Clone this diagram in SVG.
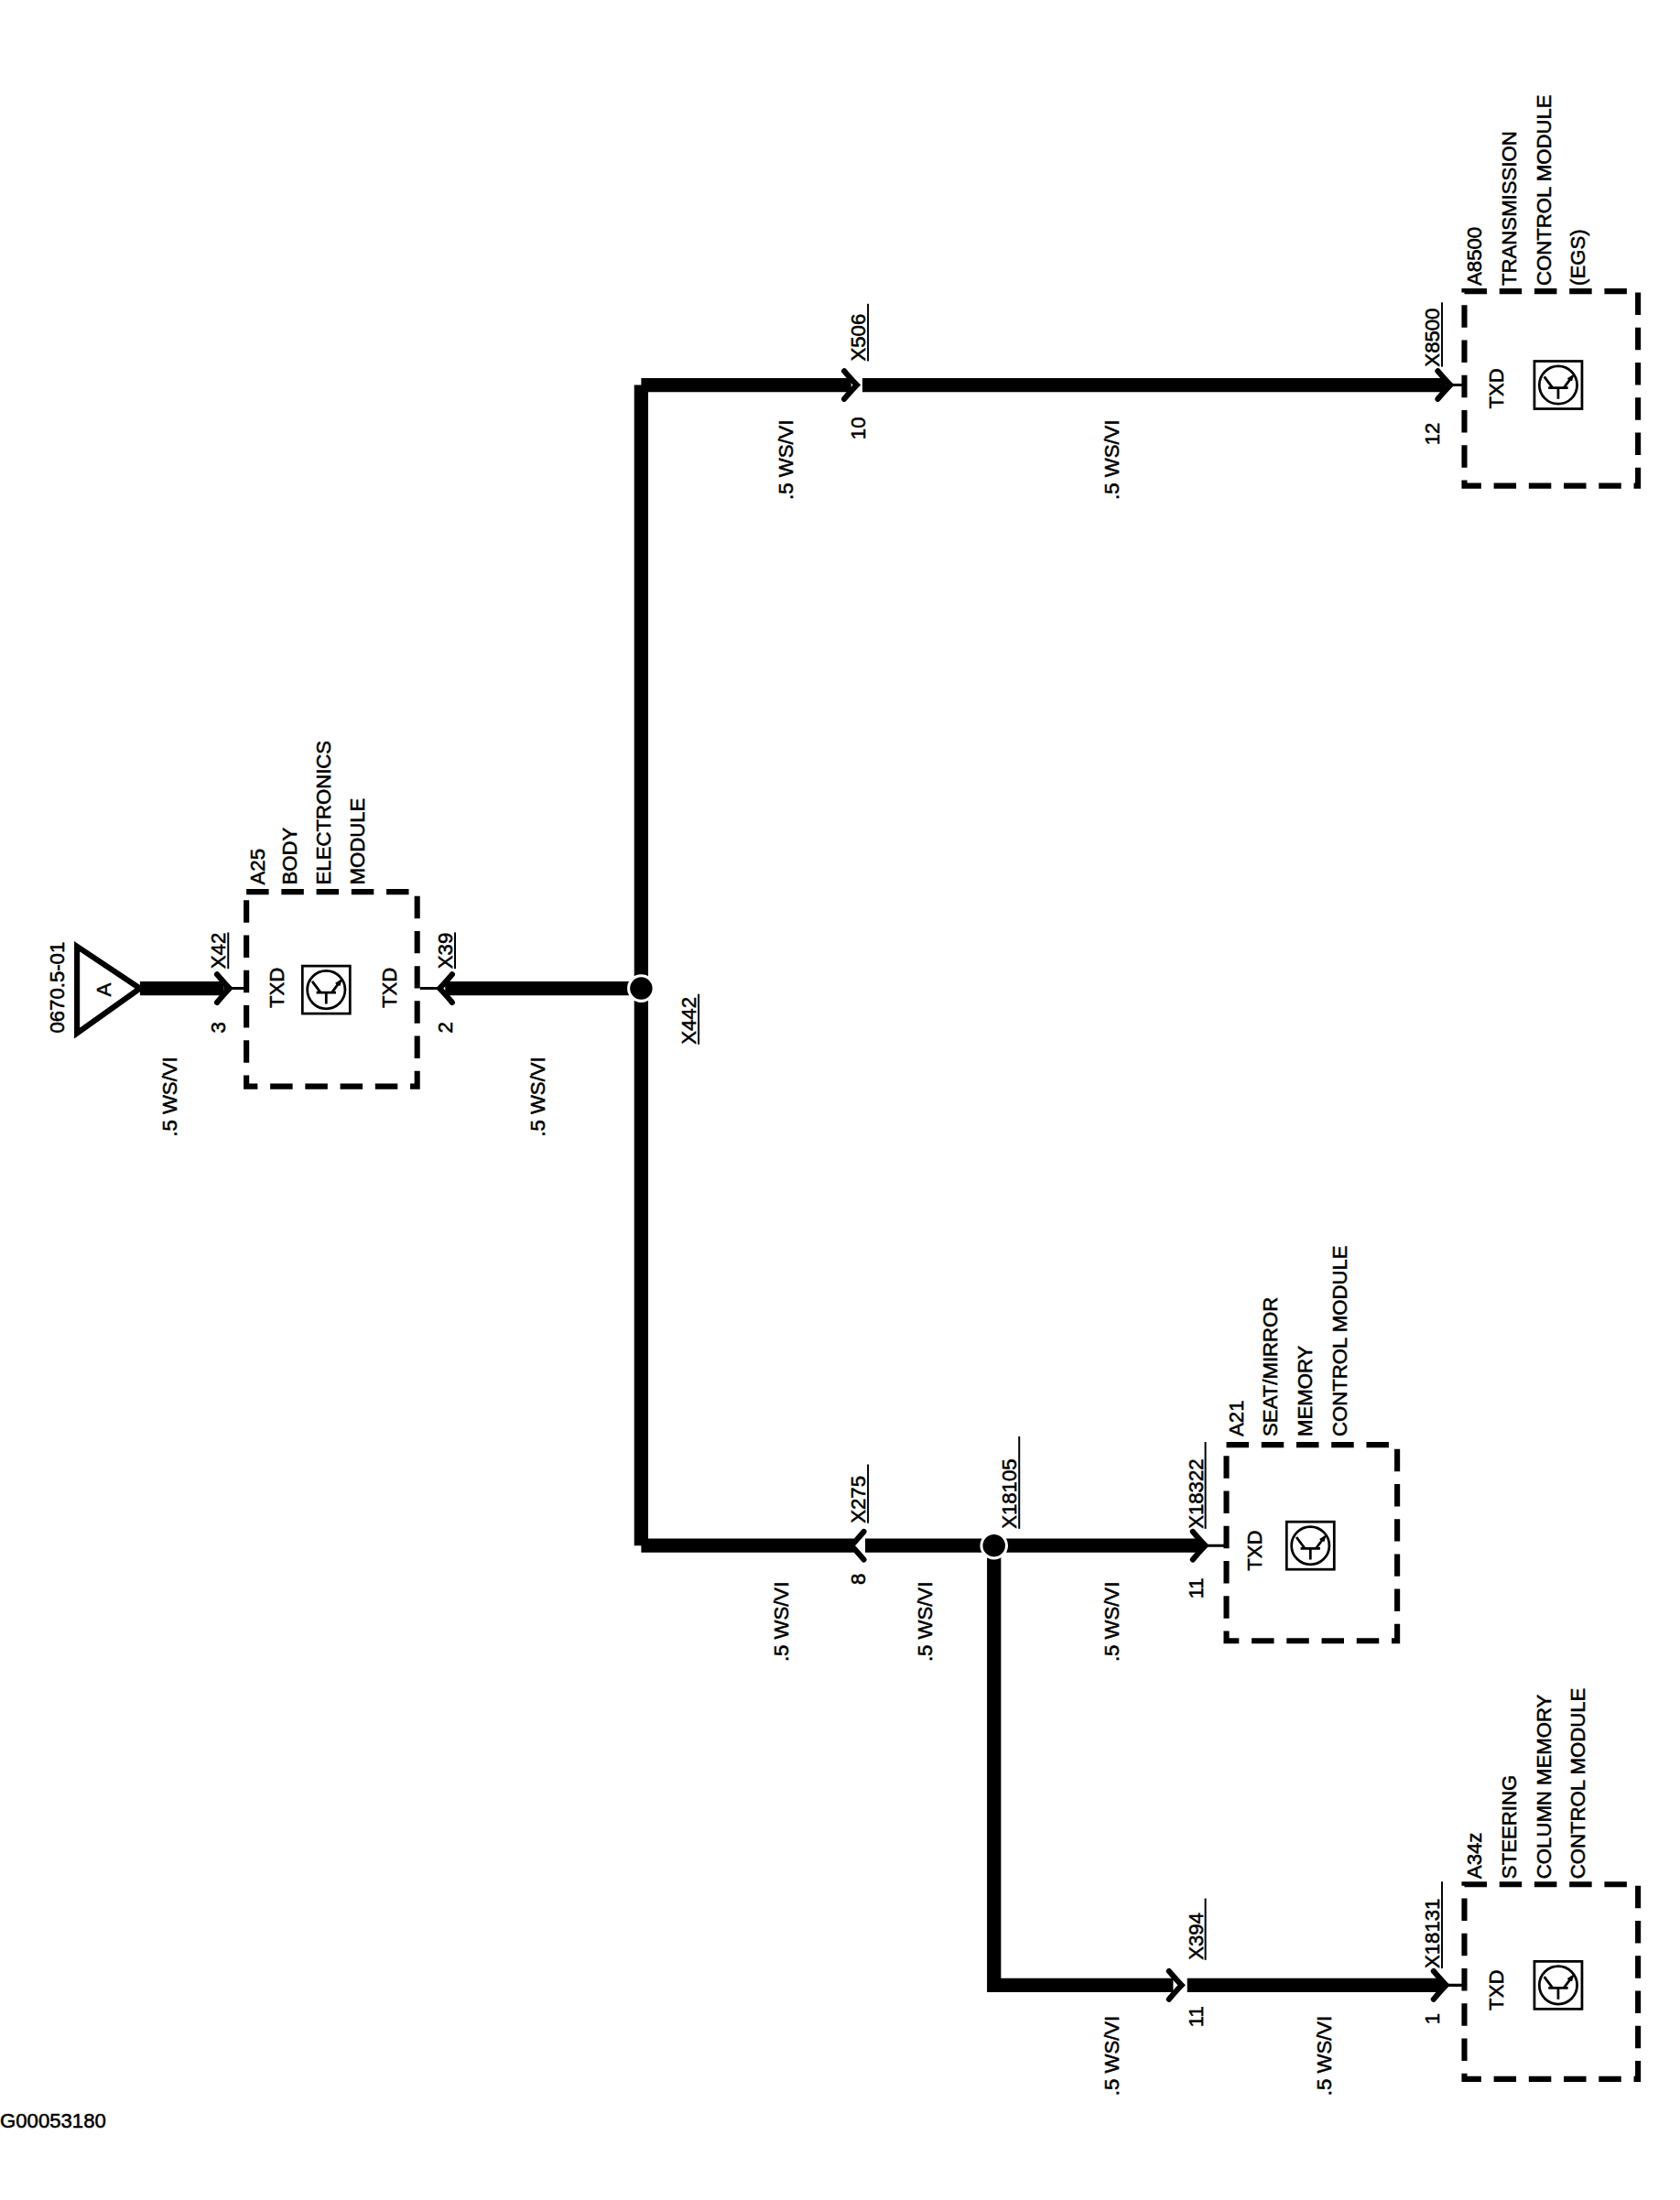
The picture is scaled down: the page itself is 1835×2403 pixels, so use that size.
<svg xmlns="http://www.w3.org/2000/svg" width="1835" height="2403" viewBox="0 0 1835 2403">
<style>
text{font-family:"Liberation Sans",Arial,sans-serif;font-size:14.5px;fill:#000;stroke:#000;stroke-width:0.35}
.w{stroke:#000;stroke-width:10;fill:none}
.t{stroke:#000;stroke-width:2;fill:none}
.box{stroke:#000;stroke-width:4;fill:none;stroke-dasharray:16,9}
.ul{stroke:#000;stroke-width:1.3}
</style>
<defs>
<g id="fork"><path d="M-9,-10 Q-3,-3 0,0 Q-3,3 -9,10" stroke="#000" stroke-width="4" fill="none" stroke-linecap="round"/></g>
<g id="tr"><rect x="0" y="0" width="34" height="34" fill="none" stroke="#000" stroke-width="1.8"/><circle cx="17" cy="17" r="13.5" fill="none" stroke="#000" stroke-width="1.8"/><path d="M7,17 H15 M15,10 V24 M15,13 L23,7 M15,21 L23,27 M20,26 L23,27 L21,24" stroke="#000" stroke-width="1.8" fill="none"/></g>
</defs>
<rect width="1835" height="2403" fill="#fff"/>
<g transform="scale(1.52917)">
<g id="connectors">
<path class="w" d="M100,706 H160"/>
<path class="w" d="M318,706 H458"/>
<path class="w" d="M458,275 V1104"/>
<path class="w" d="M458,275 H608"/>
<path class="w" d="M616,275 H1033"/>
<path class="w" d="M458,1104 H610"/>
<path class="w" d="M618,1104 H858"/>
<path class="w" d="M710,1104 V1418 H838"/>
<path class="w" d="M848,1418 H1030"/>
<path class="t" d="M160,706 H176 M300,706 H316 M1033,275 H1046 M858,1104 H876 M1030,1418 H1046"/>
<use href="#fork" transform="translate(164,706)"/>
<use href="#fork" transform="translate(314,706) rotate(180)"/>
<use href="#fork" transform="translate(612,275)"/>
<use href="#fork" transform="translate(1036,275)"/>
<use href="#fork" transform="translate(608,1104) rotate(180)"/>
<use href="#fork" transform="translate(861,1104)"/>
<use href="#fork" transform="translate(844,1418)"/>
<use href="#fork" transform="translate(1033,1418)"/>
<circle cx="458" cy="706" r="9" fill="#000" stroke="#fff" stroke-width="2"/>
<circle cx="710" cy="1104" r="9" fill="#000" stroke="#fff" stroke-width="2"/>
<text transform="translate(126,812) rotate(-90)">.5 WS/VI</text>
<text transform="translate(389,812) rotate(-90)">.5 WS/VI</text>
<text transform="translate(566,357) rotate(-90)">.5 WS/VI</text>
<text transform="translate(799,357) rotate(-90)">.5 WS/VI</text>
<text transform="translate(563,1187) rotate(-90)">.5 WS/VI</text>
<text transform="translate(666,1187) rotate(-90)">.5 WS/VI</text>
<text transform="translate(799,1187) rotate(-90)">.5 WS/VI</text>
<text transform="translate(799,1497) rotate(-90)">.5 WS/VI</text>
<text transform="translate(951,1497) rotate(-90)">.5 WS/VI</text>
<text transform="translate(161,738) rotate(-90)">3</text>
<text transform="translate(161,692) rotate(-90)">X42</text><line class="ul" x1="163" y1="692" x2="163" y2="666"/>
<text transform="translate(323,738) rotate(-90)">2</text>
<text transform="translate(323,692) rotate(-90)">X39</text><line class="ul" x1="325" y1="692" x2="325" y2="666"/>
<text transform="translate(497,746) rotate(-90)">X442</text><line class="ul" x1="499" y1="746" x2="499" y2="710"/>
<text transform="translate(618,314) rotate(-90)">10</text>
<text transform="translate(618,258) rotate(-90)">X506</text><line class="ul" x1="620" y1="258" x2="620" y2="217"/>
<text transform="translate(1028,318) rotate(-90)">12</text>
<text transform="translate(1028,262) rotate(-90)">X8500</text><line class="ul" x1="1030" y1="262" x2="1030" y2="216"/>
<text transform="translate(618,1132) rotate(-90)">8</text>
<text transform="translate(618,1088) rotate(-90)">X275</text><line class="ul" x1="620" y1="1088" x2="620" y2="1046"/>
<text transform="translate(726,1092) rotate(-90)">X18105</text><line class="ul" x1="728" y1="1092" x2="728" y2="1026"/>
<text transform="translate(859,1142) rotate(-90)">11</text>
<text transform="translate(859,1092) rotate(-90)">X18322</text><line class="ul" x1="861" y1="1092" x2="861" y2="1030"/>
<text transform="translate(859,1448) rotate(-90)">11</text>
<text transform="translate(859,1400) rotate(-90)">X394</text><line class="ul" x1="861" y1="1400" x2="861" y2="1356"/>
<text transform="translate(1028,1446) rotate(-90)">1</text>
<text transform="translate(1028,1406) rotate(-90)">X18131</text><line class="ul" x1="1030" y1="1406" x2="1030" y2="1344"/>
</g>
<g id="ref-A">
<path d="M55,676 L100,706 L55,738 Z" fill="none" stroke="#000" stroke-width="4" stroke-linejoin="miter"/>
<text transform="translate(79,707) rotate(-90)" text-anchor="middle" font-size="16">A</text>
<text transform="translate(46,738) rotate(-90)">0670.5-01</text>
</g>
<g id="A25">
<rect class="box" x="176" y="637" width="122" height="139"/>
<text transform="translate(203,720) rotate(-90)">TXD</text>
<text transform="translate(283,720) rotate(-90)">TXD</text>
<use href="#tr" transform="translate(216,724) rotate(-90)"/>
<text transform="translate(189,632) rotate(-90)">A25</text>
<text transform="translate(212,632) rotate(-90)">BODY</text>
<text transform="translate(236,632) rotate(-90)">ELECTRONICS</text>
<text transform="translate(260,632) rotate(-90)">MODULE</text>
</g>
<g id="A8500">
<rect class="box" x="1046" y="208" width="124" height="139"/>
<text transform="translate(1074,292) rotate(-90)">TXD</text>
<use href="#tr" transform="translate(1096,292) rotate(-90)"/>
<text transform="translate(1058,204) rotate(-90)">A8500</text>
<text transform="translate(1083,204) rotate(-90)">TRANSMISSION</text>
<text transform="translate(1108,204) rotate(-90)">CONTROL MODULE</text>
<text transform="translate(1132,204) rotate(-90)">(EGS)</text>
</g>
<g id="A21">
<rect class="box" x="876" y="1032" width="122" height="140"/>
<text transform="translate(901,1122) rotate(-90)">TXD</text>
<use href="#tr" transform="translate(919,1121) rotate(-90)"/>
<text transform="translate(888,1026) rotate(-90)">A21</text>
<text transform="translate(912,1026) rotate(-90)">SEAT/MIRROR</text>
<text transform="translate(937,1026) rotate(-90)">MEMORY</text>
<text transform="translate(962,1026) rotate(-90)">CONTROL MODULE</text>
</g>
<g id="A34z">
<rect class="box" x="1046" y="1346" width="124" height="139"/>
<text transform="translate(1074,1436) rotate(-90)">TXD</text>
<use href="#tr" transform="translate(1096,1435) rotate(-90)"/>
<text transform="translate(1058,1342) rotate(-90)">A34z</text>
<text transform="translate(1083,1342) rotate(-90)">STEERING</text>
<text transform="translate(1108,1342) rotate(-90)">COLUMN MEMORY</text>
<text transform="translate(1132,1342) rotate(-90)">CONTROL MODULE</text>
</g>
<text x="0" y="1520">G00053180</text>
</g>
</svg>
